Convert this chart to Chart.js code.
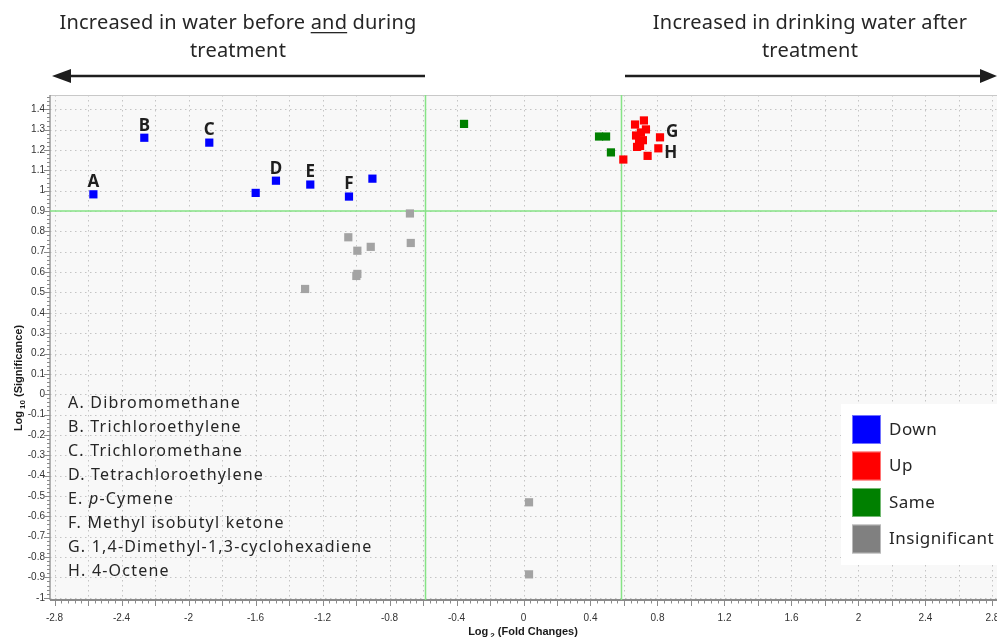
<!DOCTYPE html>
<html>
<head>
<meta charset="utf-8">
<script src="https://cdn.jsdelivr.net/npm/chart.js@4/dist/chart.umd.min.js"></script>
<style>
  html, body { margin: 0; padding: 0; background: #fff; }
  #wrap { width: 997px; height: 637px; position: relative; }
</style>
</head>
<body>
<div id="wrap"><canvas id="volcano" width="997" height="637"></canvas></div>
<script>
// Volcano plot: log2 fold change vs log10 significance for water compounds.
const downPoints = [
  [-2.568, 0.982], [-2.264, 1.260], [-1.876, 1.236], [-1.599, 0.989],
  [-1.478, 1.049], [-1.273, 1.030], [-1.042, 0.971], [-0.902, 1.059]
];
const downLetters = ['A', 'B', 'C', '', 'D', 'E', 'F', ''];

const upPoints = [
  [0.596, 1.153], [0.666, 1.325], [0.719, 1.345], [0.731, 1.301],
  [0.672, 1.271], [0.701, 1.286], [0.690, 1.243], [0.713, 1.248],
  [0.678, 1.215], [0.696, 1.220], [0.741, 1.171], [0.815, 1.262],
  [0.805, 1.208]
];
const upLetters = ['', '', '', '', '', '', '', '', '', '', '', 'G', 'H'];

const samePoints = [
  [-0.355, 1.328], [0.451, 1.266], [0.493, 1.266], [0.522, 1.188]
];

const insignificantPoints = [
  [-0.678, 0.888], [-1.046, 0.771], [-0.912, 0.724], [-0.673, 0.743],
  [-0.992, 0.705], [-0.992, 0.591], [-0.998, 0.581], [-1.304, 0.517],
  [0.033, -0.531], [0.033, -0.885]
];

const seriesLabels = ['Down', 'Up', 'Same', 'Insignificant'];
const seriesColors = ['#0000ff', '#ff0000', '#008000', '#a3a3a3'];
const swatchColors = ['#0000ff', '#ff0000', '#008000', '#808080'];

const compoundNames = [
  'A. Dibromomethane',
  'B. Trichloroethylene',
  'C. Trichloromethane',
  'D. Tetrachloroethylene',
  'E. *p*-Cymene',
  'F. Methyl isobutyl ketone',
  'G. 1,4-Dimethyl-1,3-cyclohexadiene',
  'H. 4-Octene'
];

const xTickValues = [-2.8, -2.6, -2.4, -2.2, -2, -1.8, -1.6, -1.4, -1.2, -1, -0.8, -0.6, -0.4, -0.2,
  0, 0.2, 0.4, 0.6, 0.8, 1, 1.2, 1.4, 1.6, 1.8, 2, 2.2, 2.4, 2.6, 2.8];
const yTickValues = [-1, -0.9, -0.8, -0.7, -0.6, -0.5, -0.4, -0.3, -0.2, -0.1, 0,
  0.1, 0.2, 0.3, 0.4, 0.5, 0.6, 0.7, 0.8, 0.9, 1, 1.1, 1.2, 1.3, 1.4];

const foldThreshold = 0.585;        // log2(1.5)
const significanceThreshold = 0.9;

const leftHeading = ['Increased in water before ', 'and', ' during', 'treatment'];
const rightHeading = ['Increased in drinking water after', 'treatment'];

const toXY = arr => arr.map(p => ({ x: p[0], y: p[1] }));
const pointSets = [downPoints, upPoints, samePoints, insignificantPoints];

const TEXT = '#262626';
const SANS = '"Noto Sans", "Open Sans", sans-serif';
const ARIAL = '"Liberation Sans", Arial, sans-serif';

const decorations = {
  id: 'decorations',
  beforeDraw(chart) {
    const { ctx, chartArea: a } = chart;
    ctx.save();
    ctx.fillStyle = '#ffffff';
    ctx.fillRect(0, 0, chart.width, chart.height);
    ctx.fillStyle = '#f8f8f8';
    ctx.fillRect(a.left, a.top, a.right - a.left, a.bottom - a.top);
    ctx.restore();
  },
  beforeDatasetsDraw(chart) {
    const { ctx, chartArea: a, scales: { x, y } } = chart;
    ctx.save();
    // dotted grid
    ctx.strokeStyle = '#c4c4c4';
    ctx.lineWidth = 1;
    ctx.setLineDash([1.5, 3.5]);
    xTickValues.forEach(v => {
      const px = Math.round(x.getPixelForValue(v)) + 0.5;
      ctx.beginPath(); ctx.moveTo(px, a.top); ctx.lineTo(px, a.bottom); ctx.stroke();
    });
    yTickValues.forEach(v => {
      const py = Math.round(y.getPixelForValue(v)) + 0.5;
      ctx.beginPath(); ctx.moveTo(a.left, py); ctx.lineTo(a.right, py); ctx.stroke();
    });
    ctx.setLineDash([]);

    // frame
    ctx.strokeStyle = '#c8c8c8';
    ctx.beginPath(); ctx.moveTo(a.left, a.top + 0.5); ctx.lineTo(a.right, a.top + 0.5); ctx.stroke();
    ctx.strokeStyle = '#9a9a9a';
    ctx.lineWidth = 1.5;
    ctx.beginPath(); ctx.moveTo(a.left, a.top); ctx.lineTo(a.left, a.bottom); ctx.stroke();
    ctx.strokeStyle = '#8a8a8a';
    ctx.lineWidth = 2;
    ctx.beginPath(); ctx.moveTo(a.left, a.bottom); ctx.lineTo(a.right, a.bottom); ctx.stroke();

    // tick marks (major + minor)
    ctx.strokeStyle = '#8a8a8a';
    ctx.lineWidth = 1;
    for (let i = -70; i <= 70; i++) {
      const v = i * 0.04;
      if (v < x.min || v > x.max) continue;
      const px = Math.round(x.getPixelForValue(v)) + 0.5;
      const len = (i % 5 === 0) ? 6 : 3.5;
      ctx.beginPath(); ctx.moveTo(px, a.bottom); ctx.lineTo(px, a.bottom + len); ctx.stroke();
    }
    for (let i = -50; i <= 73; i++) {
      const v = i * 0.02;
      if (v < y.min || v > y.max) continue;
      const py = Math.round(y.getPixelForValue(v)) + 0.5;
      const len = (i % 5 === 0) ? 6 : 3;
      ctx.beginPath(); ctx.moveTo(a.left - len, py); ctx.lineTo(a.left, py); ctx.stroke();
    }

    // threshold lines
    ctx.strokeStyle = '#86e386';
    ctx.lineWidth = 1.5;
    [-foldThreshold, foldThreshold].forEach(v => {
      const px = x.getPixelForValue(v);
      ctx.beginPath(); ctx.moveTo(px, a.top); ctx.lineTo(px, a.bottom); ctx.stroke();
    });
    const ty = y.getPixelForValue(significanceThreshold);
    ctx.beginPath(); ctx.moveTo(a.left, ty); ctx.lineTo(a.right, ty); ctx.stroke();
    ctx.restore();
  },
  afterDatasetsDraw(chart) {
    const { ctx, scales: { x, y } } = chart;
    ctx.save();

    // compound letters beside their points
    ctx.fillStyle = '#1e1e1e';
    ctx.font = 'bold 17px ' + SANS;
    ctx.textBaseline = 'middle';
    ctx.textAlign = 'center';
    downPoints.forEach((p, i) => {
      if (!downLetters[i]) return;
      ctx.fillText(downLetters[i], x.getPixelForValue(p[0]), y.getPixelForValue(p[1]) - 12);
    });
    ctx.textAlign = 'left';
    upPoints.forEach((p, i) => {
      if (!upLetters[i]) return;
      const dy = upLetters[i] === 'G' ? -5 : 5;
      ctx.fillText(upLetters[i], x.getPixelForValue(p[0]) + 6, y.getPixelForValue(p[1]) + dy);
    });

    // compound key
    ctx.fillStyle = TEXT;
    ctx.letterSpacing = '1.2px';
    compoundNames.forEach((name, i) => {
      const parts = name.split('*');
      let cx = 68;
      const cy = 403 + i * 24;
      parts.forEach((part, k) => {
        ctx.font = (k % 2 === 1 ? 'italic ' : '') + '16px ' + SANS;
        ctx.fillText(part, cx, cy);
        cx += ctx.measureText(part).width;
      });
    });
    ctx.letterSpacing = '0px';

    // legend
    ctx.fillStyle = '#ffffff';
    ctx.fillRect(841, 404, 156, 161);
    ctx.font = '17px ' + SANS;
    ctx.letterSpacing = '0.5px';
    seriesLabels.forEach((label, i) => {
      const top = 415 + i * 36.5;
      ctx.fillStyle = swatchColors[i];
      ctx.fillRect(852, top, 29, 29);
      ctx.strokeStyle = 'rgba(255,255,255,0.45)';
      ctx.lineWidth = 1;
      ctx.strokeRect(852.5, top + 0.5, 28, 28);
      ctx.fillStyle = TEXT;
      ctx.fillText(label, 889, top + 15);
    });
    ctx.letterSpacing = '0px';
    ctx.restore();
  },
  afterDraw(chart) {
    const { ctx } = chart;
    ctx.save();
    ctx.fillStyle = TEXT;
    ctx.textBaseline = 'alphabetic';

    // headings
    ctx.font = '20px ' + SANS;
    ctx.letterSpacing = '0.2px';
    ctx.textAlign = 'left';
    const l1 = leftHeading[0] + leftHeading[1] + leftHeading[2];
    const w1 = ctx.measureText(l1).width;
    const sx = 238 - w1 / 2;
    ctx.fillText(l1, sx, 29);
    const pre = ctx.measureText(leftHeading[0]).width;
    const andW = ctx.measureText(leftHeading[1]).width;
    ctx.fillRect(sx + pre, 32, andW, 1.3);
    ctx.textAlign = 'center';
    ctx.fillText(leftHeading[3], 238, 57);
    ctx.fillText(rightHeading[0], 810, 29);
    ctx.fillText(rightHeading[1], 810, 57);
    ctx.letterSpacing = '0px';

    // arrows
    ctx.strokeStyle = '#1e1e1e';
    ctx.fillStyle = '#1e1e1e';
    ctx.lineWidth = 2.6;
    ctx.beginPath(); ctx.moveTo(425, 76); ctx.lineTo(66, 76); ctx.stroke();
    ctx.beginPath(); ctx.moveTo(52, 76); ctx.lineTo(71, 69); ctx.lineTo(71, 83); ctx.closePath(); ctx.fill();
    ctx.beginPath(); ctx.moveTo(625, 76); ctx.lineTo(984, 76); ctx.stroke();
    ctx.beginPath(); ctx.moveTo(997, 76); ctx.lineTo(980, 69); ctx.lineTo(980, 83); ctx.closePath(); ctx.fill();

    // axis titles with subscripts
    const drawSubTitle = (base, sub, rest, cx, cy) => {
      ctx.font = 'bold 11px ' + ARIAL;
      const wb = ctx.measureText(base).width;
      const wr = ctx.measureText(rest).width;
      ctx.font = 'bold 8px ' + ARIAL;
      const ws = ctx.measureText(sub).width;
      const total = wb + 2 + ws + wr;
      let px = cx - total / 2;
      ctx.textAlign = 'left';
      ctx.font = 'bold 11px ' + ARIAL;
      ctx.fillText(base, px, cy);
      px += wb + 2;
      ctx.font = 'bold 8px ' + ARIAL;
      ctx.fillText(sub, px, cy + 3);
      px += ws;
      ctx.font = 'bold 11px ' + ARIAL;
      ctx.fillText(rest, px, cy);
    };
    ctx.fillStyle = '#1a1a1a';
    drawSubTitle('Log', '2', ' (Fold Changes)', 523, 635);
    ctx.translate(22, 378);
    ctx.rotate(-Math.PI / 2);
    drawSubTitle('Log', '10', ' (Significance)', 0, 0);
    ctx.restore();
  }
};

new Chart(document.getElementById('volcano'), {
  type: 'scatter',
  data: {
    datasets: pointSets.map((pts, i) => ({
      label: seriesLabels[i],
      data: toXY(pts),
      backgroundColor: seriesColors[i],
      borderWidth: 0,
      pointStyle: 'rect',
      pointRadius: 5.8,
      pointHoverRadius: 5.8
    }))
  },
  options: {
    responsive: false,
    devicePixelRatio: 1,
    animation: false,
    events: [],
    layout: { autoPadding: false, padding: { top: 95, left: 0, right: 0, bottom: 0 } },
    plugins: { legend: { display: false }, tooltip: { enabled: false }, title: { display: false } },
    scales: {
      x: {
        type: 'linear',
        min: -2.827,
        max: 2.827,
        afterBuildTicks: s => { s.ticks = xTickValues.map(v => ({ value: v })); },
        afterFit: s => { s.height = 37; s.paddingLeft = 0; s.paddingRight = 0; },
        grid: { display: false, drawTicks: false },
        border: { display: false },
        ticks: {
          autoSkip: false, maxRotation: 0, padding: 12,
          color: '#333', font: { family: 'Liberation Sans', size: 10 },
          callback: (v, i) => (i % 2 === 0 ? String(xTickValues[i]) : '')
        }
      },
      y: {
        type: 'linear',
        min: -1.011,
        max: 1.47,
        afterBuildTicks: s => { s.ticks = yTickValues.map(v => ({ value: v })); },
        afterFit: s => { s.width = 50; s.paddingTop = 0; s.paddingBottom = 0; },
        grid: { display: false, drawTicks: false },
        border: { display: false },
        ticks: {
          autoSkip: false, padding: 5,
          color: '#333', font: { family: 'Liberation Sans', size: 10 },
          callback: (v, i) => String(yTickValues[i])
        }
      }
    }
  },
  plugins: [decorations]
});
</script>
</body>
</html>
